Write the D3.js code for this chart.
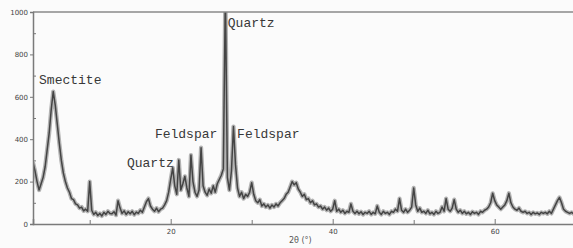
<!DOCTYPE html>
<html>
<head>
<meta charset="utf-8">
<script src="https://cdn.jsdelivr.net/npm/d3@7"></script>
<style>
  html, body { margin: 0; padding: 0; background: #fbfbfb; }
  svg { display: block; }
</style>
</head>
<body>
<div id="chart"></div>
<script>
// XRD pattern, step 0.25 deg 2theta starting at 3.00
const startAngle = 3;
const stepAngle = 0.25;
const intensity = [
  290, 250, 200, 160,   // 3
  190, 220, 270, 350,   // 4
  430, 540, 625, 560,   // 5
  470, 380, 300, 240,   // 6
  200, 170, 150, 120,   // 7
  115, 95, 90, 75,      // 8
  80, 62, 70, 60,       // 9
  200, 65, 45, 55,      // 10
  40, 50, 38, 55,       // 11
  45, 60, 50, 48,       // 12
  58, 42, 110, 75,      // 13
  50, 62, 45, 58,       // 14
  48, 60, 44, 56,       // 15
  50, 65, 55, 80,       // 16
  105, 120, 85, 70,     // 17
  60, 75, 58, 70,       // 18
  75, 90, 110, 150,     // 19
  210, 265, 180, 140,   // 20
  302, 160, 190, 225,   // 21
  170, 130, 325, 200,   // 22
  150, 130, 160, 360,   // 23
  180, 150, 135, 165,   // 24
  145, 180, 150, 190,   // 25
  210, 230, 260, 1100,  // 26
  220, 160, 250, 460,   // 27
  280, 170, 130, 150,   // 28
  120, 140, 130, 150,   // 29
  195, 140, 110, 100,   // 30
  115, 85, 95, 80,      // 31
  90, 75, 90, 80,       // 32
  95, 85, 100, 110,     // 33
  120, 140, 150, 175,   // 34
  200, 185, 195, 165,   // 35
  150, 130, 140, 115,   // 36
  120, 100, 110, 90,    // 37
  95, 80, 85, 70,       // 38
  80, 65, 75, 60,       // 39
  70, 110, 60, 70,      // 40
  55, 65, 50, 60,       // 41
  55, 95, 60, 50,       // 42
  60, 48, 58, 45,       // 43
  55, 50, 60, 45,       // 44
  55, 48, 85, 55,       // 45
  45, 60, 50, 55,       // 46
  45, 60, 55, 70,       // 47
  60, 120, 65, 55,      // 48
  70, 55, 65, 80,       // 49
  170, 90, 60, 75,      // 50
  55, 60, 50, 65,       // 51
  48, 55, 45, 60,       // 52
  50, 55, 80, 60,       // 53
  120, 70, 60, 75,      // 54
  115, 70, 55, 65,      // 55
  50, 60, 48, 55,       // 56
  45, 58, 50, 55,       // 57
  45, 60, 55, 65,       // 58
  70, 80, 100, 145,     // 59
  110, 90, 80, 70,      // 60
  80, 90, 110, 145,     // 61
  100, 80, 70, 65,      // 62
  75, 60, 55, 60,       // 63
  50, 55, 45, 55,       // 64
  48, 52, 45, 55,       // 65
  50, 55, 48, 60,       // 66
  50, 70, 90, 110,      // 67
  125, 100, 70, 60,     // 68
  55, 50, 55, 48,       // 69
  52                    // 70
];

const yTicks = [0, 200, 400, 600, 800, 1000];
const yMinorTicks = [100, 300, 500, 700, 900];
const xTicks = [20, 40, 60];
const xMinorTicks = [10, 30, 50, 70];

const peakLabels = ['Smectite', 'Quartz', 'Feldspar', 'Feldspar', 'Quartz'];
const labelAngle = [3.75, 27.05, 18.05, 28.2, 14.6];
const labelLevel = [660, 930, 406, 406, 269];

const width = 573, height = 248;
const margin = {top: 12, left: 33, bottom: 24};

const svg = d3.select('#chart').append('svg')
    .attr('width', width)
    .attr('height', height);

const x = d3.scaleLinear().domain([3, 70]).range([margin.left, margin.left + 67 * 8.1]);
const y = d3.scaleLinear().domain([0, 1000]).range([height - margin.bottom, margin.top]);

const points = intensity.map((v, i) => ({t: startAngle + i * stepAngle, v: v}));

svg.append('clipPath').attr('id', 'plot')
    .append('rect')
    .attr('x', margin.left).attr('y', margin.top)
    .attr('width', width - margin.left).attr('height', y(0) - margin.top);

const line = d3.line().x(d => x(d.t)).y(d => y(d.v));

const trace = svg.append('g').attr('clip-path', 'url(#plot)');
// soft halo round the trace, like the scanned band
trace.append('path')
    .datum(points)
    .attr('fill', 'none')
    .attr('stroke', '#8c8c8c')
    .attr('stroke-width', 4.2)
    .attr('stroke-linejoin', 'round')
    .attr('opacity', 0.65)
    .attr('d', line);
trace.append('path')
    .datum(points)
    .attr('fill', 'none')
    .attr('stroke', '#444')
    .attr('stroke-width', 1.5)
    .attr('stroke-linejoin', 'round')
    .attr('d', line);

// top frame
svg.append('line')
    .attr('x1', margin.left).attr('x2', width)
    .attr('y1', y(1000)).attr('y2', y(1000))
    .attr('stroke', '#8a8a8a').attr('stroke-width', 1.5);

// y axis
svg.append('g')
    .attr('transform', `translate(${margin.left},0)`)
    .call(d3.axisLeft(y).tickValues(yTicks).tickSize(3).tickPadding(2).tickFormat(d3.format('d')));
svg.append('g')
    .attr('transform', `translate(${margin.left},0)`)
    .call(d3.axisLeft(y).tickValues(yMinorTicks).tickSize(-3).tickFormat(''))
    .call(g => g.select('.domain').remove());

// x axis
svg.append('g')
    .attr('transform', `translate(0,${y(0)})`)
    .call(d3.axisBottom(x).tickValues(xTicks).tickSize(-5).tickPadding(5).tickFormat(d3.format('d')));
svg.append('g')
    .attr('transform', `translate(0,${y(0)})`)
    .call(d3.axisBottom(x).tickValues(xMinorTicks).tickSize(-4).tickFormat(''))
    .call(g => g.select('.domain').remove());

svg.selectAll('.domain').attr('stroke', '#7a7a7a').attr('stroke-width', 1.5);
svg.selectAll('.tick line').attr('stroke', '#777');
svg.selectAll('.tick text')
    .attr('fill', '#444')
    .style('font-family', '"DejaVu Sans", sans-serif')
    .style('font-size', '7px');

svg.append('text')
    .attr('x', x(36))
    .attr('y', 243)
    .attr('text-anchor', 'middle')
    .attr('fill', '#555')
    .style('font-family', '"DejaVu Sans", sans-serif')
    .style('font-size', '8px')
    .text('2θ (°)');

// peak labels
svg.append('g')
    .selectAll('text')
    .data(peakLabels)
    .enter()
    .append('text')
    .attr('x', (d, i) => x(labelAngle[i]))
    .attr('y', (d, i) => y(labelLevel[i]))
    .attr('fill', '#383838')
    .style('font-family', '"Liberation Mono", "DejaVu Sans Mono", monospace')
    .style('font-size', '13px')
    .text(d => d);
</script>
</body>
</html>
